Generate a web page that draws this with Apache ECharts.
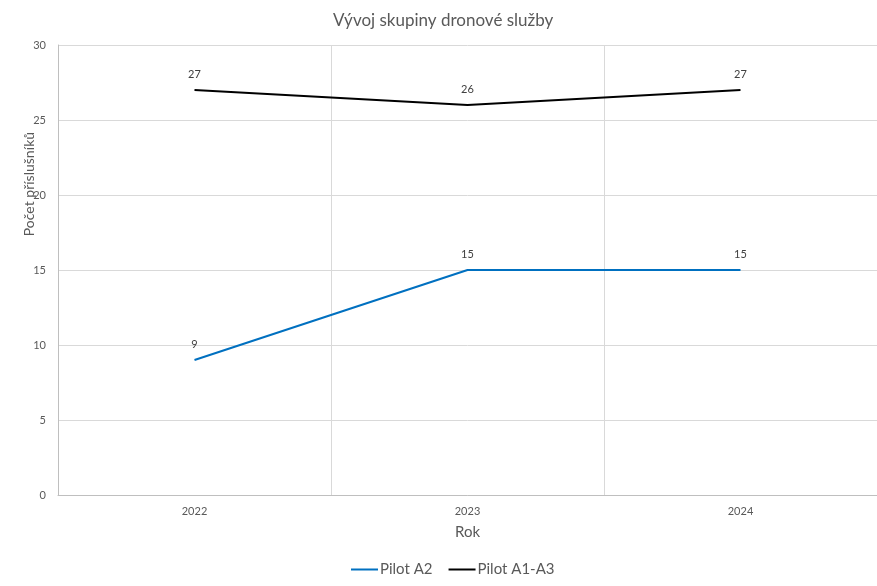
<!DOCTYPE html>
<html><head><meta charset="utf-8">
<script src="https://cdn.jsdelivr.net/npm/echarts@6/dist/echarts.min.js"></script>
<style>html,body{margin:0;padding:0;background:#fff}#c{width:877px;height:586px}</style>
</head><body><div id="c"></div>
<script>
const categories = ['2022', '2023', '2024'];
const pilotA2 = [9, 15, 15];
const pilotA1A3 = [27, 26, 27];
const seriesNames = ['Pilot A2', 'Pilot A1-A3'];
const FONT = 'Lato';
const chart = echarts.init(document.getElementById('c'), null, {renderer: 'canvas'});
chart.setOption({
  animation: false,
  textStyle: {fontFamily: FONT},
  title: {text: 'Vývoj skupiny dronové služby', left: 328, top: 7,
    textStyle: {fontFamily: FONT, fontSize: 17, fontWeight: 'normal', color: '#595959'}},
  grid: {left: 58, width: 821, top: 45, height: 450, containLabel: false},
  legend: {bottom: 4, left: 346, itemWidth: 27, itemHeight: 2, itemGap: 16, icon: 'rect',
    textStyle: {fontFamily: FONT, fontSize: 15, color: '#595959', padding: [0, 0, 0, -3]},
    data: seriesNames},
  xAxis: {type: 'category', data: categories, boundaryGap: true,
    name: 'Rok', nameLocation: 'middle', nameGap: 30,
    nameTextStyle: {fontFamily: FONT, fontSize: 15, color: '#595959'},
    axisLine: {lineStyle: {color: '#bfbfbf'}}, axisTick: {show: false},
    axisLabel: {fontFamily: FONT, fontSize: 11, color: '#595959', margin: 11},
    splitLine: {show: true, lineStyle: {color: '#d9d9d9'}}},
  yAxis: {type: 'value', min: 0, max: 30, interval: 5,
    axisLine: {show: true, lineStyle: {color: '#bfbfbf'}}, axisTick: {show: false},
    axisLabel: {fontFamily: FONT, fontSize: 11, color: '#595959', margin: 12},
    splitLine: {lineStyle: {color: '#d9d9d9'}}},
  graphic: [{type: 'text', x: 29, y: 184, rotation: Math.PI / 2,
    style: {text: 'Počet příslušníků', fontFamily: FONT, fontSize: 14, fill: '#595959',
      textAlign: 'center', textVerticalAlign: 'middle'}}],
  series: [
    {name: seriesNames[0], type: 'line', data: pilotA2, showSymbol: true, symbol: 'circle', symbolSize: 0,
      lineStyle: {color: '#0070c0', width: 2}, itemStyle: {color: '#0070c0'},
      label: {show: true, position: 'top', distance: 10, fontFamily: FONT, fontSize: 11, color: '#404040'}},
    {name: seriesNames[1], type: 'line', data: pilotA1A3, showSymbol: true, symbol: 'circle', symbolSize: 0,
      lineStyle: {color: '#000000', width: 2}, itemStyle: {color: '#000000'},
      label: {show: true, position: 'top', distance: 10, fontFamily: FONT, fontSize: 11, color: '#404040'}}
  ]
});
</script></body></html>
